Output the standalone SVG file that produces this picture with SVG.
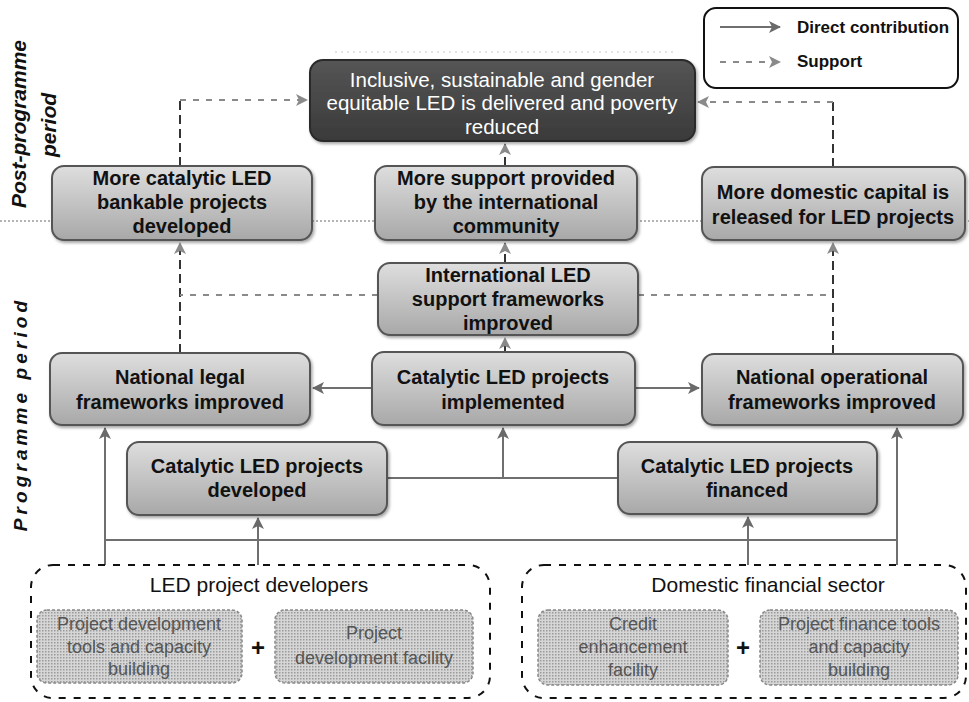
<svg xmlns="http://www.w3.org/2000/svg" width="969" height="702" viewBox="0 0 969 702">
<defs>
  <linearGradient id="g-node" x1="0" y1="0" x2="0" y2="1">
    <stop offset="0" stop-color="#dedede"/>
    <stop offset="1" stop-color="#a8a8a8"/>
  </linearGradient>
  <linearGradient id="g-dark" x1="0" y1="0" x2="0" y2="1">
    <stop offset="0" stop-color="#555"/>
    <stop offset="1" stop-color="#3a3a3a"/>
  </linearGradient>
  <pattern id="p-dots" width="3" height="3" patternUnits="userSpaceOnUse">
    <rect width="3" height="3" fill="#d6d6d6"/>
    <rect width="1.5" height="1.5" fill="#9a9a9a"/>
  </pattern>
  <filter id="shadow" x="-10%" y="-10%" width="125%" height="130%">
    <feDropShadow dx="1.5" dy="2" stdDeviation="1.5" flood-color="#000" flood-opacity="0.35"/>
  </filter>
  <marker id="arr" markerUnits="userSpaceOnUse" markerWidth="14" markerHeight="14" refX="11" refY="6" orient="auto">
    <path d="M0,0 L12,6 L0,12 L3,6 Z" fill="#6a6a6a"/>
  </marker>
  <marker id="arr-s" markerUnits="userSpaceOnUse" markerWidth="14" markerHeight="14" refX="11" refY="6" orient="auto">
    <path d="M0,0 L12,6 L0,12 L3,6 Z" fill="#8a8a8a"/>
  </marker>
</defs>
<style>
  text { font-family: "Liberation Sans", Arial, sans-serif; }
  .node rect { fill: url(#g-node); stroke: #555; stroke-width: 2; filter: url(#shadow); }
  .node text { font-size: 20px; font-weight: bold; fill: #111; text-anchor: middle; }
  .dark rect { fill: url(#g-dark); stroke: #2a2a2a; stroke-width: 2; filter: url(#shadow); }
  .dark text { font-size: 20.5px; fill: #fff; text-anchor: middle; }
  .group > rect { fill: none; stroke: #111; stroke-width: 2; stroke-dasharray: 7 8; }
  .group > text.title { font-size: 21px; fill: #111; text-anchor: middle; }
  .inner rect { fill: url(#p-dots); stroke: #888; stroke-width: 1.5; stroke-dasharray: 3 2; }
  .inner text { font-size: 18px; fill: #555; text-anchor: middle; }
  .plus { font-size: 24px; font-weight: bold; fill: #111; text-anchor: middle; }
  .direct { fill: none; stroke: #6f6f6f; stroke-width: 2; }
  .support { fill: none; stroke: #8a8a8a; stroke-width: 2; stroke-dasharray: 6 7; }
  .support-v { fill: none; stroke: #333; stroke-width: 2; stroke-dasharray: 9 5; }
  .period { font-size: 21px; font-weight: bold; font-style: italic; fill: #111; text-anchor: middle; }
  .divider { stroke: #9a9a9a; stroke-width: 1.5; stroke-dasharray: 2 2; fill: none; }
  .legend text { font-size: 17px; font-weight: bold; fill: #111; }
</style>

<!-- background -->
<rect width="969" height="702" fill="#fff"/>

<!-- period dividers -->
<line class="divider" x1="0" y1="221" x2="969" y2="221"/>
<line x1="335" y1="52" x2="677" y2="52" stroke="#c8c8c8" stroke-width="1" stroke-dasharray="2 4"/>

<!-- period labels -->
<g id="label-post">
  <text class="period" transform="translate(26,124) rotate(-90)">Post-programme</text>
  <text class="period" transform="translate(56,125) rotate(-90)">period</text>
</g>
<g id="label-programme">
  <text class="period" style="font-size:19px;letter-spacing:4.1px" transform="translate(27,414) rotate(-90)">Programme period</text>
</g>

<!-- legend -->
<g id="legend" class="legend">
  <rect x="704" y="8" width="254" height="80" rx="12" fill="#fff" stroke="#111" stroke-width="2"/>
  <line class="direct" x1="720" y1="27" x2="780" y2="27" marker-end="url(#arr)"/>
  <line class="support" x1="720" y1="62" x2="780" y2="62" marker-end="url(#arr-s)"/>
  <text x="797" y="33">Direct contribution</text>
  <text x="797" y="67">Support</text>
</g>

<!-- connectors -->
<g id="connectors">
  <!-- direct contributions -->
  <polyline class="direct" points="105,565 105,428" marker-end="url(#arr)"/>
  <line class="direct" x1="105" y1="540" x2="897" y2="540"/>
  <polyline class="direct" points="897,565 897,428" marker-end="url(#arr)"/>
  <line class="direct" x1="258" y1="565" x2="258" y2="518" marker-end="url(#arr)"/>
  <line class="direct" x1="748" y1="565" x2="748" y2="517" marker-end="url(#arr)"/>
  <line class="direct" x1="387" y1="478" x2="618" y2="478"/>
  <line class="direct" x1="503" y1="478" x2="503" y2="428" marker-end="url(#arr)"/>
  <line class="direct" x1="372" y1="388" x2="313" y2="388" marker-end="url(#arr)"/>
  <line class="direct" x1="635" y1="388" x2="699" y2="388" marker-end="url(#arr)"/>
  <!-- support -->
  <line class="support-v" x1="180" y1="353" x2="180" y2="243" marker-end="url(#arr-s)"/>
  <line class="support-v" x1="833" y1="354" x2="833" y2="243" marker-end="url(#arr-s)"/>
  <line class="support" x1="378" y1="295" x2="180" y2="295"/>
  <line class="support" x1="638" y1="295" x2="833" y2="295"/>
  <line class="support-v" x1="505" y1="352" x2="505" y2="338" marker-end="url(#arr-s)"/>
  <line class="support-v" x1="505" y1="263" x2="505" y2="243" marker-end="url(#arr-s)"/>
  <line class="support-v" x1="505" y1="166" x2="505" y2="144" marker-end="url(#arr-s)"/>
  <polyline class="support-v" points="180,166 180,100"/>
  <line class="support" x1="180" y1="100" x2="307" y2="100" marker-end="url(#arr-s)"/>
  <polyline class="support-v" points="833,167 833,102"/>
  <line class="support" x1="833" y1="102" x2="698" y2="102" marker-end="url(#arr-s)"/>
</g>

<!-- top goal -->
<g id="goal" class="dark">
  <rect x="310" y="60" width="385" height="81" rx="13"/>
  <text x="502" y="87">Inclusive, sustainable and gender</text>
  <text x="502" y="110">equitable LED is delivered and poverty</text>
  <text x="502" y="134">reduced</text>
</g>

<!-- post-programme outcomes -->
<g id="bankable" class="node">
  <rect x="52" y="166" width="260" height="74" rx="12"/>
  <text x="182" y="185">More catalytic LED</text>
  <text x="182" y="209">bankable projects</text>
  <text x="182" y="233">developed</text>
</g>
<g id="intl-support" class="node">
  <rect x="375" y="166" width="262" height="74" rx="12"/>
  <text x="506" y="185">More support provided</text>
  <text x="506" y="209">by the international</text>
  <text x="506" y="233">community</text>
</g>
<g id="domestic-capital" class="node">
  <rect x="702" y="167" width="263" height="73" rx="12"/>
  <text x="833" y="199">More domestic capital is</text>
  <text x="833" y="224">released for LED projects</text>
</g>

<!-- programme outcomes -->
<g id="intl-frameworks" class="node">
  <rect x="378" y="263" width="260" height="72" rx="12"/>
  <text x="508" y="282">International LED</text>
  <text x="508" y="306">support frameworks</text>
  <text x="508" y="330">improved</text>
</g>
<g id="legal" class="node">
  <rect x="50" y="353" width="260" height="72" rx="12"/>
  <text x="180" y="384">National legal</text>
  <text x="180" y="409">frameworks  improved</text>
</g>
<g id="implemented" class="node">
  <rect x="372" y="352" width="263" height="73" rx="12"/>
  <text x="503" y="384">Catalytic LED projects</text>
  <text x="503" y="409">implemented</text>
</g>
<g id="operational" class="node">
  <rect x="702" y="354" width="261" height="71" rx="12"/>
  <text x="832" y="384">National operational</text>
  <text x="832" y="409">frameworks  improved</text>
</g>
<g id="developed" class="node">
  <rect x="127" y="442" width="260" height="73" rx="12"/>
  <text x="257" y="473">Catalytic LED projects</text>
  <text x="257" y="497">developed</text>
</g>
<g id="financed" class="node">
  <rect x="618" y="442" width="259" height="72" rx="12"/>
  <text x="747" y="473">Catalytic LED projects</text>
  <text x="747" y="497">financed</text>
</g>

<!-- actor groups -->
<g id="led-developers" class="group">
  <rect x="31" y="565" width="459" height="133" rx="22"/>
  <text class="title" x="259" y="592">LED project developers</text>
  <g id="pd-tools" class="inner">
    <rect x="37" y="610" width="205" height="73" rx="10"/>
    <text x="139" y="630">Project development</text>
    <text x="139" y="653">tools and capacity</text>
    <text x="139" y="675">building</text>
  </g>
  <text class="plus" x="258" y="656">+</text>
  <g id="pd-facility" class="inner">
    <rect x="275" y="610" width="198" height="73" rx="10"/>
    <text x="374" y="639">Project</text>
    <text x="374" y="664">development  facility</text>
  </g>
</g>
<g id="financial-sector" class="group">
  <rect x="522" y="565" width="444" height="133" rx="22"/>
  <text class="title" x="768" y="592">Domestic financial sector</text>
  <g id="credit" class="inner">
    <rect x="538" y="610" width="190" height="75" rx="10"/>
    <text x="633" y="630">Credit</text>
    <text x="633" y="653">enhancement</text>
    <text x="633" y="676">facility</text>
  </g>
  <text class="plus" x="743" y="656">+</text>
  <g id="pf-tools" class="inner">
    <rect x="760" y="610" width="198" height="75" rx="10"/>
    <text x="859" y="630">Project finance tools</text>
    <text x="859" y="653">and capacity</text>
    <text x="859" y="676">building</text>
  </g>
</g>
</svg>
